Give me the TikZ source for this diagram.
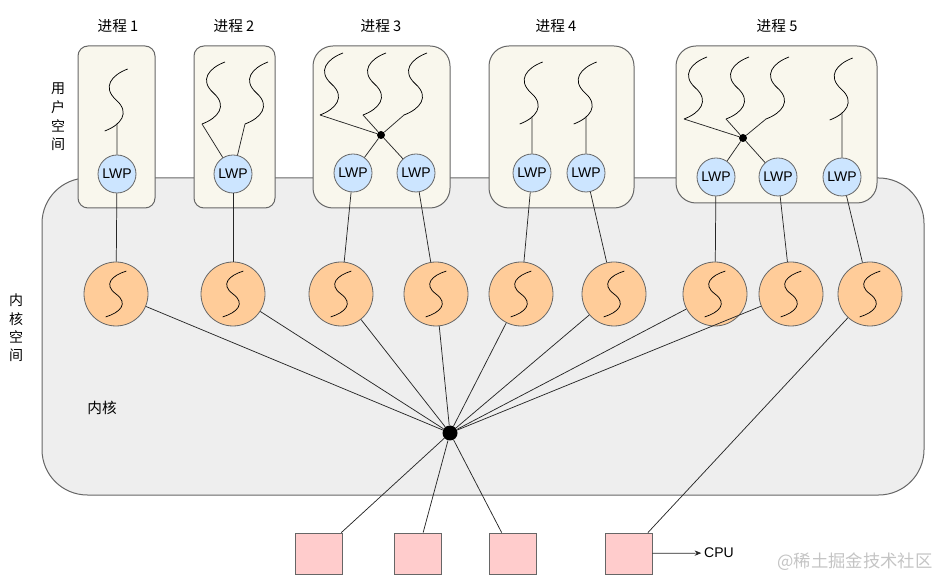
\documentclass[tikz,border=0pt]{standalone}
\usepackage{fontspec}
\setmainfont{Liberation Sans}
\newfontfamily\cjk{Noto Sans CJK SC}
\usetikzlibrary{arrows.meta}
\definecolor{procfill}{HTML}{F9F7ED}
\definecolor{lwpfill}{HTML}{CCE5FF}
\definecolor{kthfill}{HTML}{FFCC99}
\definecolor{cpufill}{HTML}{FFCCCC}
\definecolor{kernfill}{HTML}{EEEEEE}
\definecolor{edge}{HTML}{666666}
\definecolor{wmark}{HTML}{C4C4C4}
\tikzset{
  kernbox/.style={draw=edge, fill=kernfill, line width=0.75pt, rounded corners=34pt},
  procbox/.style={draw=edge, fill=procfill, line width=0.75pt, rounded corners=7.5pt},
  procboxbig/.style={draw=edge, fill=procfill, line width=0.75pt, rounded corners=15pt},
  lwp/.style={circle, draw=edge, fill=lwpfill, line width=0.6pt, minimum size=28.5pt, inner sep=0pt, font=\fontsize{10.5pt}{12pt}\selectfont},
  kth/.style={circle, draw=edge, fill=kthfill, line width=0.6pt, minimum size=48pt, inner sep=0pt},
  cpubox/.style={rectangle, draw=edge, fill=cpufill, line width=0.6pt, minimum width=35.25pt, minimum height=30.75pt, inner sep=0pt},
  hubdot/.style={circle, fill=black, minimum size=11.25pt, inner sep=0pt},
  smalldot/.style={circle, fill=black, minimum size=6pt, inner sep=0pt},
  conn/.style={draw=black!85, line width=0.55pt},
  cjklabel/.style={font=\cjk\fontsize{11pt}{13pt}\selectfont, inner sep=1pt},
  sq/.pic={
    \draw[line width=0.55pt] (11.5,-31) .. controls (-4.5,-25) and (-14.5,-13) .. (0,0)
      .. controls (14.5,13) and (4.5,25) .. (-11.5,31);
    \coordinate (-foot) at (-11.5,31);
    \coordinate (-m) at (0.8,24);
  }
}
\begin{document}
\begin{tikzpicture}[x=0.75pt,y=-0.75pt]
\path[use as bounding box] (0,0) rectangle (942,580);

% kernel space
\draw[kernbox] (42,178) rectangle (924,495);

% process boxes
\draw[procbox] (78,46) rectangle (155,208);
\draw[procbox] (194,46) rectangle (275,208);
\draw[procboxbig] (313,46) rectangle (450,208);
\draw[procboxbig] (489,46) rectangle (634,208);
\draw[procboxbig] (676,46) rectangle (877,203);

% process titles
\node[cjklabel] (n1) at (118,26) {进程 1};
\node[cjklabel] (n2) at (234,26) {进程 2};
\node[cjklabel] (n3) at (381,26) {进程 3};
\node[cjklabel] (n4) at (556,26) {进程 4};
\node[cjklabel] (n5) at (777,26) {进程 5};

% side labels
\node[font=\cjk\fontsize{10.5pt}{14pt}\selectfont, align=center, inner sep=0pt] (uspace) at (58,117) {用\\户\\空\\间};
\node[font=\cjk\fontsize{10.5pt}{13.75pt}\selectfont, align=center, inner sep=0pt] (kspace) at (16,328) {内\\核\\空\\间};
\node[cjklabel] (kern) at (102,408) {内核};

% LWPs
\node[lwp] (L1) at (117,174) {LWP};
\node[lwp] (L2) at (233,174) {LWP};
\node[lwp] (L3a) at (353,173) {LWP};
\node[lwp] (L3b) at (416,173) {LWP};
\node[lwp] (L4a) at (532,173) {LWP};
\node[lwp] (L4b) at (586,173) {LWP};
\node[lwp] (L5a) at (716,177) {LWP};
\node[lwp] (L5b) at (778,177) {LWP};
\node[lwp] (L5c) at (842,177) {LWP};

% user threads
\pic (t1) at (116.2,100) {sq};
\pic (t2a) at (213.5,93) {sq};
\pic (t2b) at (256.5,93) {sq};
\pic (t3a) at (331.5,84) {sq};
\pic (t3b) at (374.5,84) {sq};
\pic (t3c) at (415.5,84) {sq};
\pic (t4a) at (531.2,93) {sq};
\pic (t4b) at (585.2,93) {sq};
\pic (t5a) at (695.5,88) {sq};
\pic (t5b) at (737.5,88) {sq};
\pic (t5c) at (777.5,88) {sq};
\pic (t5d) at (841.2,89) {sq};

\node[smalldot] (d3) at (381,135) {};
\node[smalldot] (d5) at (743,138) {};

% thread -> LWP
\draw[conn] (t1-m) -- (L1);
\draw[conn] (t2a-foot) -- (L2);
\draw[conn] (t2b-foot) -- (L2);
\draw[conn] (t3a-foot) -- (d3);
\draw[conn] (t3b-foot) -- (d3);
\draw[conn] (t3c-foot) -- (d3);
\draw[conn] (d3) -- (L3a);
\draw[conn] (d3) -- (L3b);
\draw[conn] (t4a-m) -- (L4a);
\draw[conn] (t4b-m) -- (L4b);
\draw[conn] (t5a-foot) -- (d5);
\draw[conn] (t5b-foot) -- (d5);
\draw[conn] (t5c-foot) -- (d5);
\draw[conn] (d5) -- (L5a);
\draw[conn] (d5) -- (L5b);
\draw[conn] (t5d-m) -- (L5c);

% kernel threads
\node[kth] (K1) at (116,294) {};
\node[kth] (K2) at (233,294) {};
\node[kth] (K3) at (341,294) {};
\node[kth] (K4) at (436,294) {};
\node[kth] (K5) at (521,294) {};
\node[kth] (K6) at (614,294) {};
\node[kth] (K7) at (715,294) {};
\node[kth] (K8) at (791,294) {};
\node[kth] (K9) at (870,294) {};
\foreach \k in {116,233,341,436,521,614,715,791,870}
  \pic[xscale=0.9,yscale=0.74] at (\k,294) {sq};

% LWP -> kernel threads
\draw[conn] (L1) -- (K1);
\draw[conn] (L2) -- (K2);
\draw[conn] (L3a) -- (K3);
\draw[conn] (L3b) -- (K4);
\draw[conn] (L4a) -- (K5);
\draw[conn] (L4b) -- (K6);
\draw[conn] (L5a) -- (K7);
\draw[conn] (L5b) -- (K8);
\draw[conn] (L5c) -- (K9);

% scheduler hub
\node[hubdot] (hub) at (450,433) {};
\foreach \k in {K1,K2,K3,K4,K5,K6,K7,K8}
  \draw[conn] (\k) -- (hub);

% CPUs
\node[cpubox] (cpu1) at (318.5,553.5) {};
\node[cpubox] (cpu2) at (417.5,553.5) {};
\node[cpubox] (cpu3) at (512.5,553.5) {};
\node[cpubox] (cpu4) at (628.5,553.5) {};
\draw[conn] (hub) -- (cpu1);
\draw[conn] (hub) -- (cpu2);
\draw[conn] (hub) -- (cpu3);
\draw[conn] (K9) -- (cpu4);

\node[font=\fontsize{10.5pt}{12pt}\selectfont, inner sep=2pt] (cpulbl) at (719,553) {CPU};
\draw[conn, -{Stealth[length=5pt,width=4pt]}] (cpu4) -- (cpulbl);

% watermark
\node[font=\cjk\fontsize{13pt}{15pt}\selectfont, text=wmark, inner sep=0pt] (wm) at (855,562) {@稀土掘金技术社区};
\end{tikzpicture}
\end{document}
